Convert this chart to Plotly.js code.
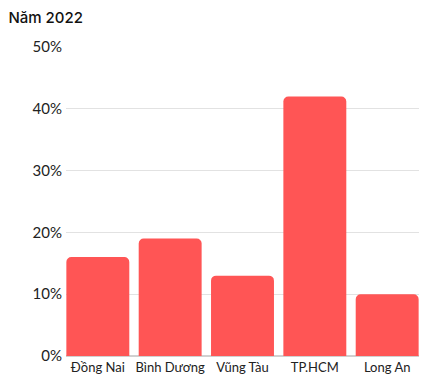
<!DOCTYPE html>
<html><head><meta charset="utf-8">
<script src="https://cdn.plot.ly/plotly-3.0.1.min.js"></script>
<style>html,body{margin:0;padding:0;background:#fff}#chart{width:422px;height:389px}</style>
</head><body><div id="chart"></div>
<script>
const categories = ["Đồng Nai", "Bình Dương", "Vũng Tàu", "TP.HCM", "Long An"];
const shares = [16, 19, 13, 42, 10];
const yTicks = [0, 10, 20, 30, 40, 50];
const yTickText = ["0%", "10%", "20%", "30%", "40%", "50%"];

Plotly.newPlot('chart', [{
  type: 'bar', x: categories, y: shares,
  marker: {color: '#FF5555', cornerradius: 5},
  hoverinfo: 'none'
}], {
  width: 422, height: 389,
  margin: {l: 66, r: 3, t: 47, b: 33},
  bargap: 0.13,
  paper_bgcolor: '#fff', plot_bgcolor: '#fff',
  title: {text: 'Năm 2022', x: 0.02, xanchor: 'left', y: 0.955, yanchor: 'middle',
          font: {family: 'Inter', size: 15, weight: 500, color: '#111'}},
  xaxis: {range: [-0.44, 4.44], ticklabelstandoff: 2, tickfont: {family: 'Lato', size: 13, color: '#222'}, ticks: '', showline: false, fixedrange: true},
  yaxis: {range: [0, 50], tickmode: 'array', tickvals: yTicks, ticktext: yTickText, ticklabelstandoff: 3,
          tickfont: {family: 'Lato', size: 15, color: '#222'},
          gridcolor: '#e2e2e2', zerolinecolor: '#d0d0d0', zerolinewidth: 1.5, fixedrange: true},
  showlegend: false
}, {displayModeBar: false, staticPlot: true});
</script></body></html>
